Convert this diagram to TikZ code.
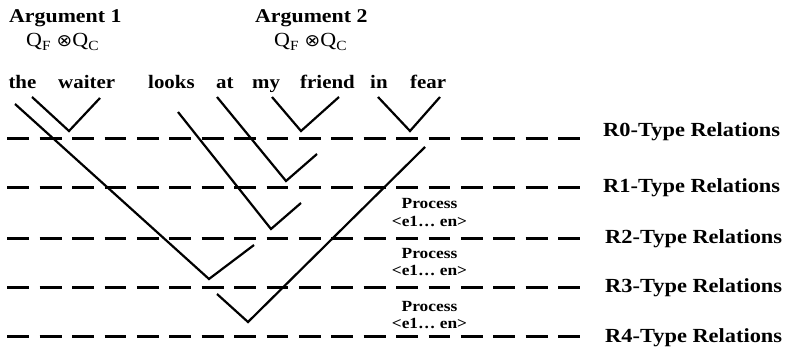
\documentclass[tikz,border=0pt]{standalone}
\usepackage{fontspec}
\setmainfont{Liberation Serif}
\newfontfamily\symf{DejaVu Sans}
\usepackage{graphicx}
\begin{document}
\begin{tikzpicture}[x=1pt,y=-1pt,
  tree/.style={line width=2.2pt},
  rel/.style={line width=3pt, dash pattern=on 21.9pt off 10.5pt},
  word/.style={font=\bfseries\fontsize{19}{22}\selectfont, xscale=1.1, inner sep=0pt, anchor=base west},
  arg/.style={font=\bfseries\fontsize{19.5}{23}\selectfont, xscale=1.12, inner sep=0pt, anchor=base west},
  qlab/.style={font=\fontsize{20}{22}\selectfont, xscale=1.1, inner sep=0pt, anchor=base west},
  rlab/.style={font=\bfseries\fontsize{20}{24}\selectfont, xscale=1.12, inner sep=0pt, anchor=base west},
  proc/.style={font=\bfseries\fontsize{15.5}{18}\selectfont, xscale=1.12, inner sep=0pt, anchor=base},
]
\useasboundingbox (0,0) rectangle (791,347);

% headings
\node[arg] (arg1) at (9,23) {Argument 1};
\node[arg] (arg2) at (255,23) {Argument 2};
\node[qlab] (q1) at (26,47) {Q\textsubscript{F} {\symf\fontsize{17}{20}\selectfont ⊗}Q\textsubscript{C}};
\node[qlab] (q2) at (274,47) {Q\textsubscript{F} {\symf\fontsize{17}{20}\selectfont ⊗}Q\textsubscript{C}};

% words
\node[word] (w1) at (8.3,89) {the};
\node[word] (w2) at (58,89) {waiter};
\node[word] (w3) at (148,89) {looks};
\node[word] (w4) at (216,89) {at};
\node[word] (w5) at (252,89) {my};
\node[word] (w6) at (300,89) {friend};
\node[word] (w7) at (370,89) {in};
\node[word] (w8) at (410,89) {fear};

% relation levels
\foreach \n/\y in {0/139,1/188,2/238,3/287,4/336}{
  \coordinate (l\n a) at (7.3,\y);
  \coordinate (l\n b) at (580,\y);
  \draw[rel] (l\n a) -- (l\n b);
}
\node[rlab] (r0) at (603,137) {R0-Type Relations};
\node[rlab] (r1) at (603,193) {R1-Type Relations};
\node[rlab] (r2) at (605,243) {R2-Type Relations};
\node[rlab] (r3) at (605,292) {R3-Type Relations};
\node[rlab] (r4) at (605,342) {R4-Type Relations};

% process labels
\node[proc] (p1a) at (429.5,208) {Process};
\node[proc] (p1b) at (429.5,226) {<e1… en>};
\node[proc] (p2a) at (429.5,258) {Process};
\node[proc] (p2b) at (429.5,275) {<e1… en>};
\node[proc] (p3a) at (429.5,311) {Process};
\node[proc] (p3b) at (429.5,328) {<e1… en>};

% tree vertices
\coordinate (a1) at (32,97);  \coordinate (b1) at (69,131);  \coordinate (c1) at (100,98);
\coordinate (a2) at (15,104); \coordinate (b2) at (209,279); \coordinate (c2) at (254,245);
\coordinate (a3) at (178,112);\coordinate (b3) at (271,229); \coordinate (c3) at (301,203);
\coordinate (a4) at (217,97); \coordinate (b4) at (286,181); \coordinate (c4) at (317,154);
\coordinate (a5) at (272,97); \coordinate (b5) at (301,131); \coordinate (c5) at (339,97);
\coordinate (a6) at (378,97); \coordinate (b6) at (410,131); \coordinate (c6) at (440,97);
\coordinate (a7) at (425,147);\coordinate (b7) at (248,322); \coordinate (c7) at (217,294);

\foreach \i in {1,...,7}{
  \draw[tree] (a\i) -- (b\i) -- (c\i);
}
\end{tikzpicture}
\end{document}
